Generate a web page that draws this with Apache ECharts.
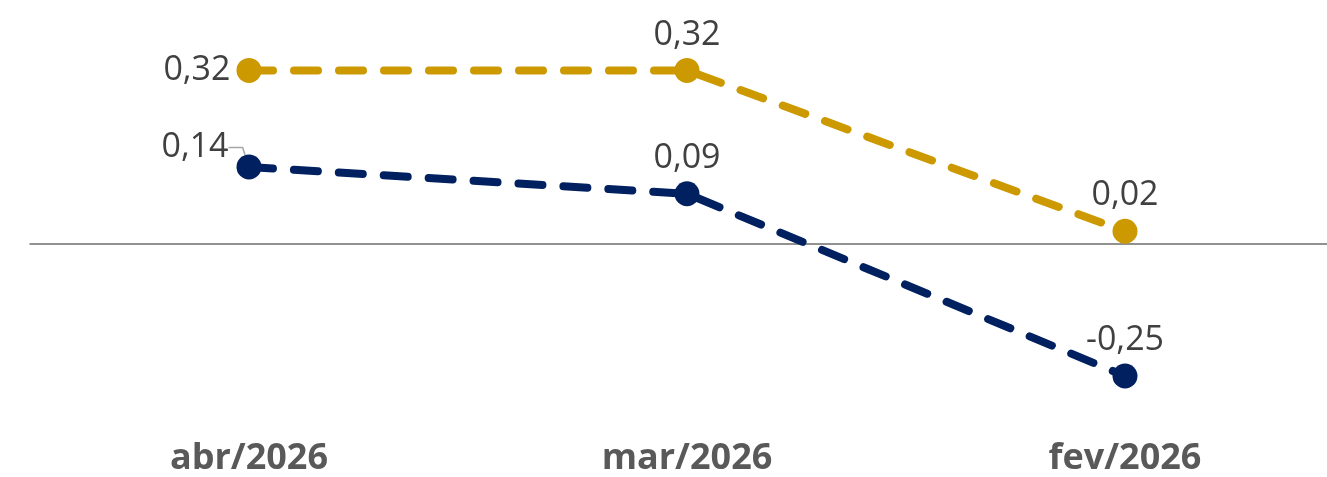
<!DOCTYPE html>
<html><head><meta charset="utf-8">
<script src="https://cdn.jsdelivr.net/npm/echarts@6/dist/echarts.min.js"></script>
<style>html,body{margin:0;padding:0;background:#fff}#c{width:1327px;height:477px}</style>
</head><body><div id="c"></div>
<script>
const categories = ['abr/2026', 'mar/2026', 'fev/2026'];
const goldValues = [0.32, 0.32, 0.02];
const navyValues = [0.14, 0.09, -0.25];
const goldLabelPos = ['left', 'top', 'top'];
const navyLabelPos = ['top', 'top', 'top'];

const fmt = p => p.value.toFixed(2).replace('.', ',');
function mk(values, pos, leaderIdx) {
  return values.map((v, i) => ({
    value: v,
    label: { position: pos[i] },
    labelLine: { show: i === leaderIdx }
  }));
}
const labelBase = { show: true, formatter: fmt, fontSize: 34, color: '#404040', fontFamily: 'Open Sans', distance: 6 };
const yRange = { min: -0.36, max: 0.36 };

const chart = echarts.init(document.getElementById('c'));
chart.setOption({
  animation: false,
  grid: [
    { left: 249, right: 202, top: 49, height: 389 },
    { left: 30, right: 0, top: 49, height: 389 }
  ],
  xAxis: [
    {
      type: 'category', data: categories, boundaryGap: false, gridIndex: 0,
      axisLine: { show: false }, axisTick: { show: false },
      axisLabel: { fontSize: 36, fontWeight: 'bold', color: '#595959', fontFamily: 'Open Sans', margin: 6 }
    },
    {
      type: 'value', gridIndex: 1, min: 0, max: 1,
      axisLine: { show: true, onZero: true, lineStyle: { color: '#6e6e6e', width: 1.5 } },
      axisTick: { show: false }, axisLabel: { show: false }, splitLine: { show: false }
    }
  ],
  yAxis: [
    Object.assign({ type: 'value', gridIndex: 0, show: false, splitLine: { show: false } }, yRange),
    Object.assign({ type: 'value', gridIndex: 1, axisLine: { show: false }, axisTick: { show: false },
      axisLabel: { show: false }, splitLine: { show: false } }, yRange)
  ],
  series: [
    {
      type: 'line', data: mk(goldValues, goldLabelPos, -1), symbol: 'circle', symbolSize: 25,
      itemStyle: { color: '#CC9900' },
      lineStyle: { color: '#CC9900', width: 8, type: [24, 21], cap: 'round' },
      label: labelBase,
      labelLine: { show: false },
      z: 3
    },
    {
      type: 'line', data: mk(navyValues, navyLabelPos, 0), symbol: 'circle', symbolSize: 25,
      itemStyle: { color: '#002060' },
      lineStyle: { color: '#002060', width: 8, type: [24, 21], cap: 'round' },
      label: labelBase,
      labelLine: { show: false, length2: 14, minTurnAngle: 80, lineStyle: { color: '#a6a6a6', width: 1.5 } },
      labelLayout: function (p) {
        if (p.dataIndex === 0) return { dx: -54, dy: 16 };
        return {};
      },
      z: 4
    }
  ]
});
</script></body></html>
